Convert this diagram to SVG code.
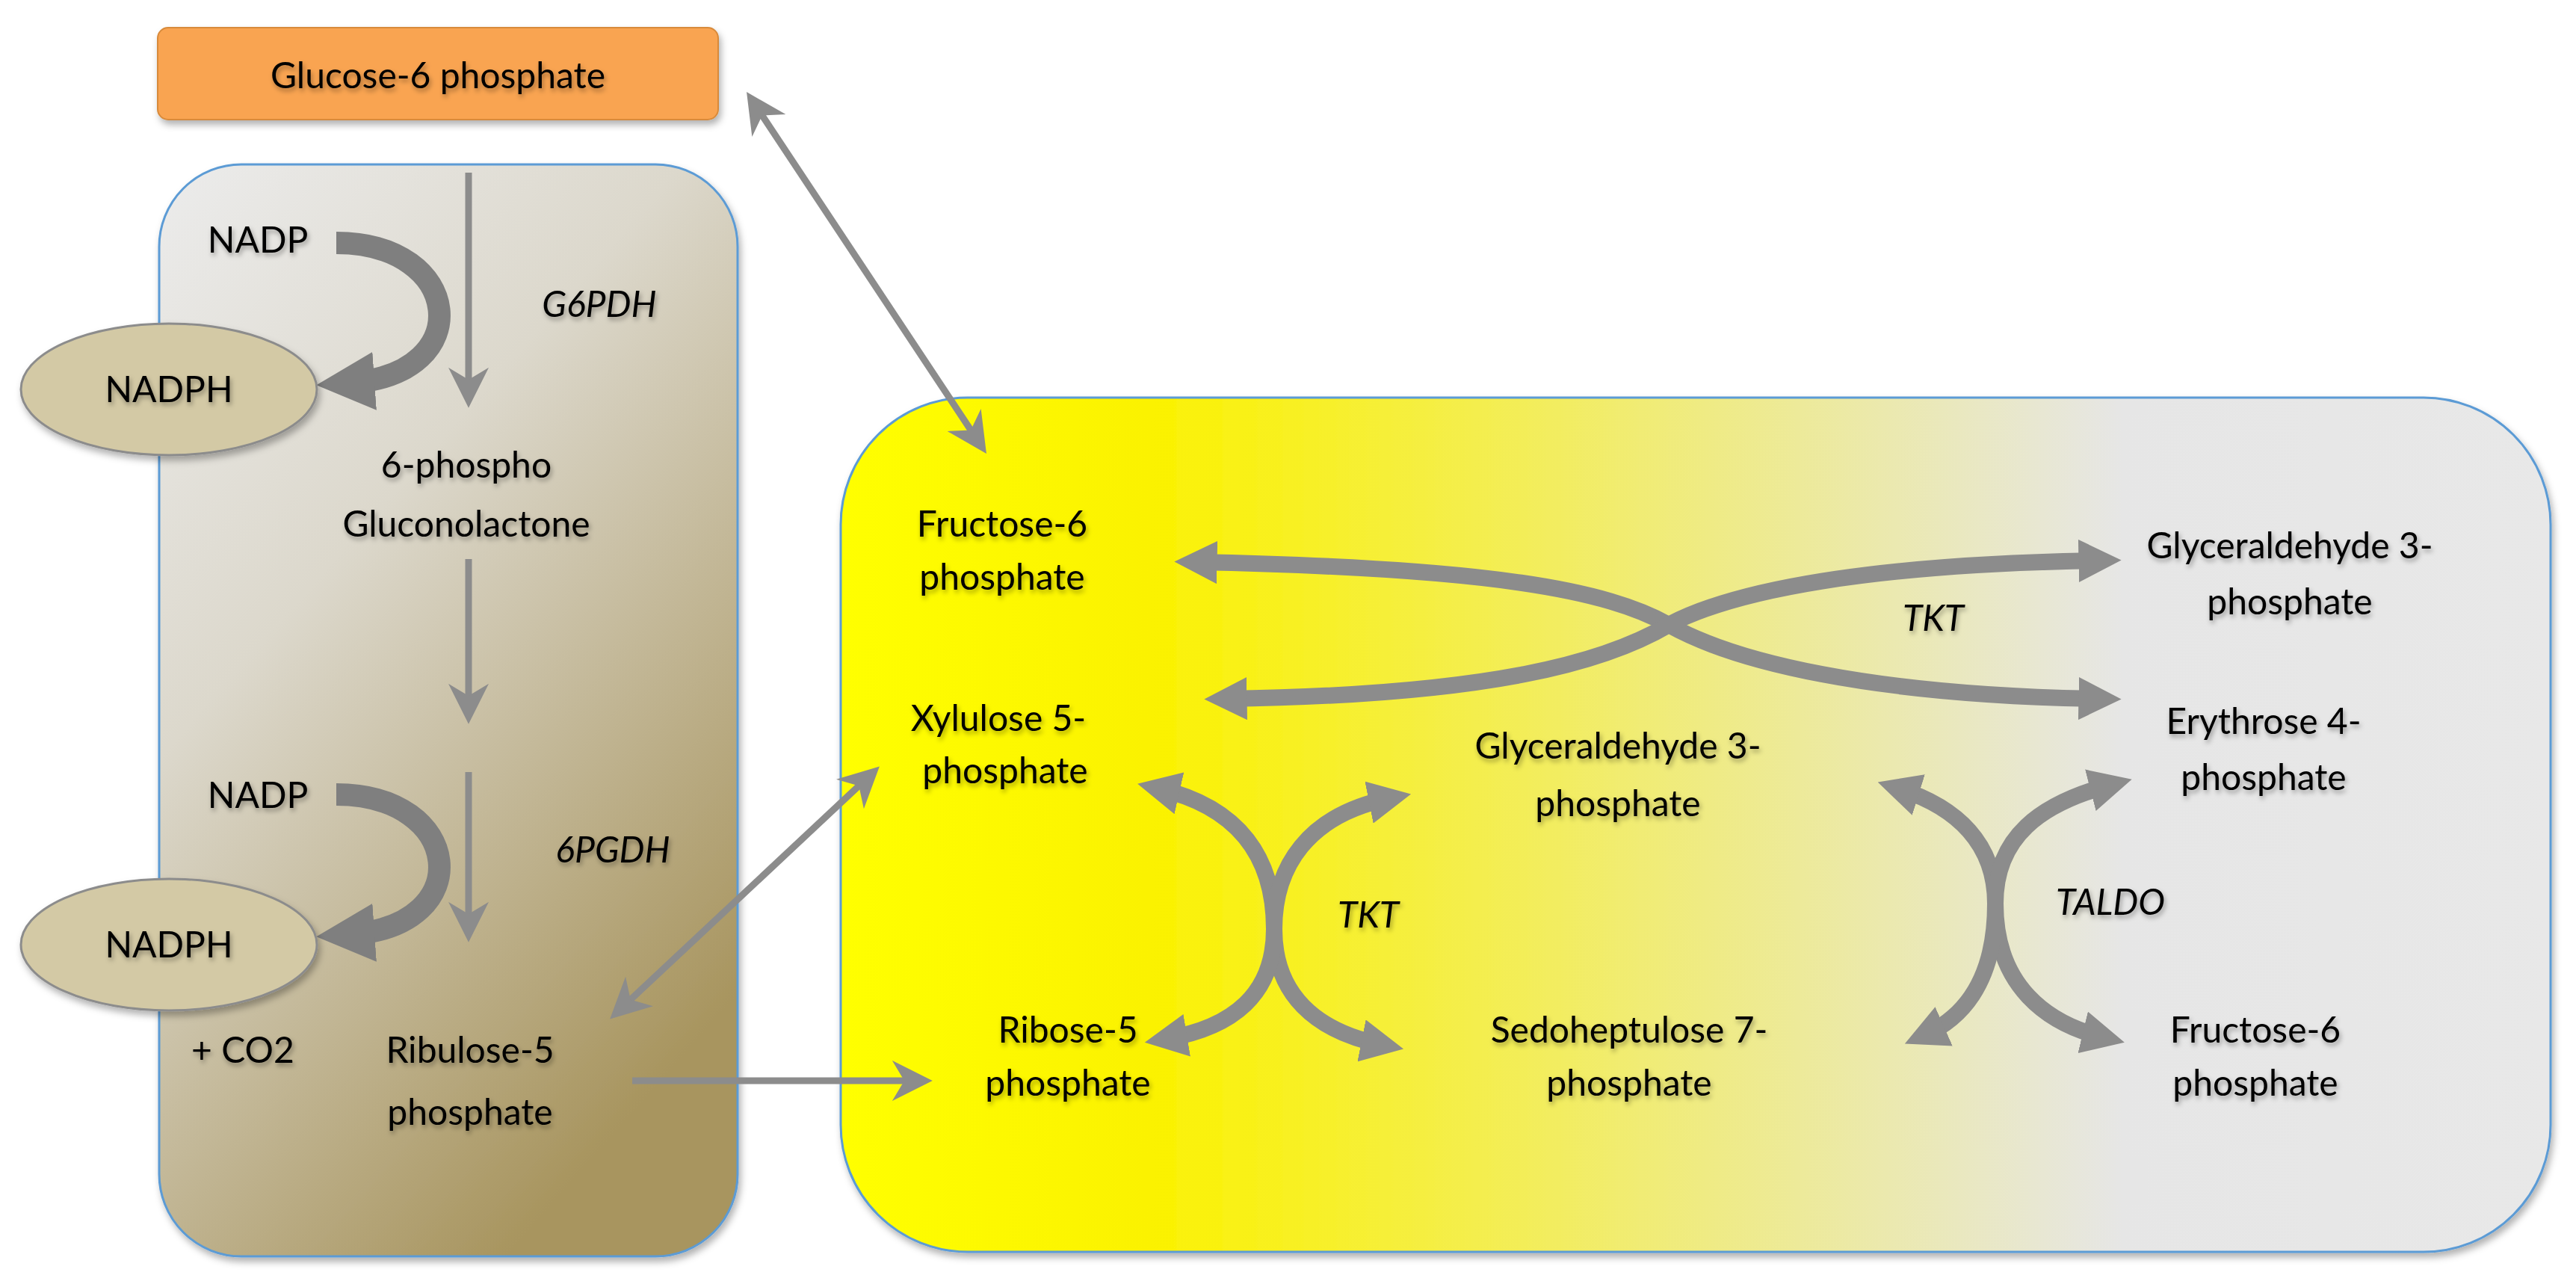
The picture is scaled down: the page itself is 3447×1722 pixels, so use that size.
<svg xmlns="http://www.w3.org/2000/svg" width="3447" height="1722" viewBox="0 0 3447 1722">
<style>
text{font-family:Lato,"Open Sans","Liberation Sans",sans-serif;font-size:48px;fill:#000;text-anchor:middle;filter:url(#sh)}
.i{font-style:italic}
.thin{fill:none;stroke:#8c8c8c;stroke-width:9;marker-end:url(#ah)}
.thick{fill:none;stroke:#8c8c8c;stroke-width:22;marker-start:url(#bh);marker-end:url(#bh)}
.cur{fill:none;stroke:#7f7f7f;stroke-width:30;marker-end:url(#ch)}
</style>
<defs>
<filter id="sh" x="-10%" y="-30%" width="130%" height="180%"><feDropShadow dx="2" dy="4" stdDeviation="3" flood-color="#000" flood-opacity="0.35"/></filter>
<filter id="bs" x="-10%" y="-10%" width="130%" height="130%"><feDropShadow dx="3" dy="6" stdDeviation="5" flood-color="#000" flood-opacity="0.3"/></filter>
<linearGradient id="lg" x1="0" y1="0" x2="0.6" y2="1"><stop offset="0" stop-color="#ececec"/><stop offset="0.4" stop-color="#dcd8cc"/><stop offset="1" stop-color="#a8955f"/></linearGradient>
<linearGradient id="rg" x1="0" y1="0" x2="1" y2="0"><stop offset="0" stop-color="#ffff00"/><stop offset="0.18" stop-color="#fbf200"/><stop offset="0.75" stop-color="#e6e6e6"/><stop offset="1" stop-color="#e8e8e8"/></linearGradient>
<marker id="ah" viewBox="0 0 10 10" refX="8" refY="5" markerWidth="6" markerHeight="6" orient="auto-start-reverse" markerUnits="strokeWidth"><path d="M0,0 L10,5 L0,10 L3,5 Z" fill="#8c8c8c"/></marker>
<marker id="bh" viewBox="0 0 10 10" refX="5" refY="5" markerWidth="2.6" markerHeight="2.6" orient="auto-start-reverse" markerUnits="strokeWidth"><path d="M0,0 L10,5 L0,10 Z" fill="#8c8c8c"/></marker>
<marker id="ch" viewBox="0 0 10 10" refX="4" refY="5" markerWidth="2.6" markerHeight="2.6" orient="auto" markerUnits="strokeWidth"><path d="M0,0 L10,5 L0,10 Z" fill="#7f7f7f"/></marker>
</defs>
<rect x="213" y="220" width="774" height="1461" rx="110" fill="url(#lg)" stroke="#5b9bd5" stroke-width="3" filter="url(#bs)"/>
<rect x="1125" y="532" width="2288" height="1143" rx="170" fill="url(#rg)" stroke="#5b9bd5" stroke-width="3" filter="url(#bs)"/>
<g id="connectors">
<path class="thin" d="M627,231 L627,535"/>
<path class="thin" d="M627,748 L627,958"/>
<path class="thin" d="M627,1033 L627,1250"/>
<path class="thin" style="marker-start:url(#ah)" d="M1005,132 L1314,598"/>
<path class="thin" style="marker-start:url(#ah)" d="M824,1356 L1169,1033"/>
<path class="thin" d="M846,1446 L1237,1446"/>
<path class="cur" d="M450,325 C620,325 640,500 470,512"/>
<path class="cur" d="M450,1063 C620,1063 640,1238 470,1250"/>
<path class="thick" d="M1600,752 C2000,760 2150,790 2233,836 C2320,885 2500,930 2810,935"/>
<path class="thick" d="M1640,935 C2000,930 2150,885 2233,836 C2320,790 2500,755 2810,750"/>
<path class="thick" d="M1550,1055 C1660,1080 1705,1150 1705,1243 C1705,1330 1760,1380 1850,1398"/>
<path class="thick" d="M1860,1068 C1750,1090 1705,1160 1705,1243 C1705,1330 1650,1375 1560,1390"/>
<path class="thick" d="M2540,1055 C2620,1080 2670,1130 2670,1209 C2670,1320 2740,1370 2815,1388"/>
<path class="thick" d="M2825,1050 C2730,1075 2670,1120 2670,1209 C2670,1320 2620,1365 2575,1385"/>
</g>
<g id="g6p"><rect x="211" y="37" width="750" height="123" rx="14" fill="#f9a451" stroke="#d88a3a" stroke-width="2" filter="url(#bs)"/><text x="586" y="118">Glucose-6 phosphate</text></g>
<g id="nadph1"><ellipse cx="226" cy="521" rx="198" ry="88" fill="#d3c9a5" stroke="#8c8c8c" stroke-width="3" filter="url(#bs)"/><text x="226" y="538">NADPH</text></g>
<g id="nadph2"><ellipse cx="226" cy="1264" rx="198" ry="88" fill="#d3c9a5" stroke="#8c8c8c" stroke-width="3" filter="url(#bs)"/><text x="226" y="1281">NADPH</text></g>
<g id="labels">
<text x="345" y="338">NADP</text>
<text class="i" x="802" y="424">G6PDH</text>
<text x="624" y="639">6-phospho</text><text x="624" y="718">Gluconolactone</text>
<text x="345" y="1081">NADP</text>
<text class="i" x="820" y="1154">6PGDH</text>
<text x="325" y="1422">+ CO2</text>
<text x="629" y="1422">Ribulose-5</text><text x="629" y="1505">phosphate</text>
<text x="1341" y="718">Fructose-6</text><text x="1341" y="789">phosphate</text>
<text x="1336" y="978">Xylulose 5-</text><text x="1345" y="1048">phosphate</text>
<text x="1429" y="1395">Ribose-5</text><text x="1429" y="1466">phosphate</text>
<text x="2165" y="1015">Glyceraldehyde 3-</text><text x="2165" y="1092">phosphate</text>
<text x="2180" y="1395">Sedoheptulose 7-</text><text x="2180" y="1466">phosphate</text>
<text class="i" x="1831" y="1241">TKT</text>
<text class="i" x="2587" y="844">TKT</text>
<text class="i" x="2824" y="1224">TALDO</text>
<text x="3064" y="747">Glyceraldehyde 3-</text><text x="3064" y="822">phosphate</text>
<text x="3029" y="982">Erythrose 4-</text><text x="3029" y="1057">phosphate</text>
<text x="3018" y="1395">Fructose-6</text><text x="3018" y="1466">phosphate</text>
</g>
</svg>
